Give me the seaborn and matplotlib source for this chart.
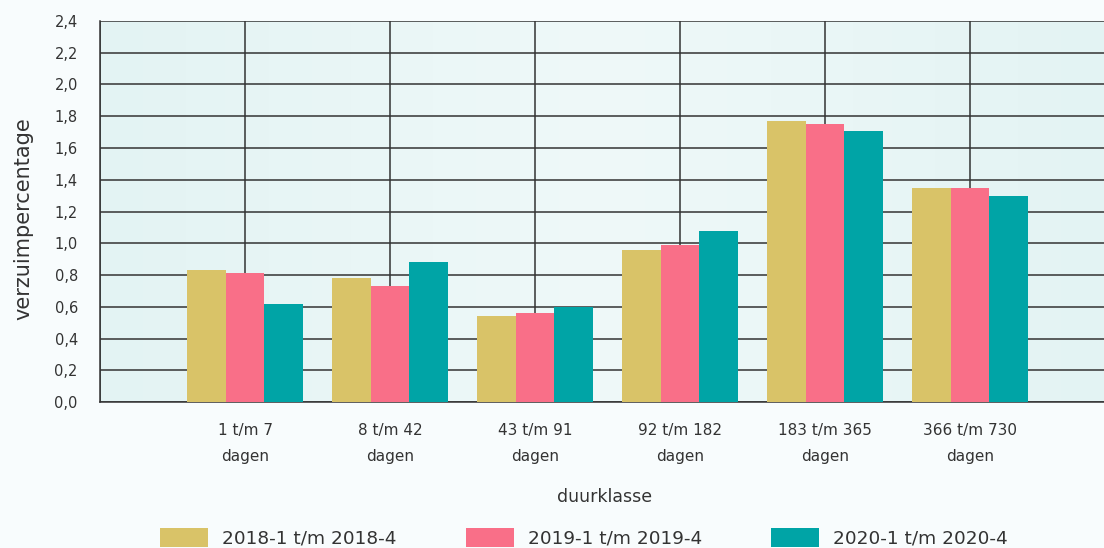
import numpy as np
import pandas as pd
import seaborn as sns
import matplotlib.pyplot as plt
from matplotlib.patches import Patch
from matplotlib.colors import LinearSegmentedColormap
from matplotlib.ticker import FuncFormatter

categories = ["1 t/m 7\ndagen", "8 t/m 42\ndagen", "43 t/m 91\ndagen",
              "92 t/m 182\ndagen", "183 t/m 365\ndagen", "366 t/m 730\ndagen"]
periods = ["2018-1 t/m 2018-4", "2019-1 t/m 2019-4", "2020-1 t/m 2020-4"]
vals_2018 = [0.83, 0.78, 0.54, 0.96, 1.77, 1.35]
vals_2019 = [0.81, 0.73, 0.56, 0.99, 1.75, 1.35]
vals_2020 = [0.62, 0.88, 0.60, 1.08, 1.71, 1.30]
colors = ["#D9C368", "#F96F88", "#00A4A6"]


def build_frame():
    rows = []
    for period, vals in zip(periods, [vals_2018, vals_2019, vals_2020]):
        for cat, v in zip(categories, vals):
            rows.append({"duurklasse": cat, "periode": period, "waarde": v})
    return pd.DataFrame(rows)


def plot(df):
    sns.set_theme(style="white")
    plt.rcParams["font.family"] = ["DejaVu Sans"]
    fig = plt.figure(figsize=(11.04, 5.48), dpi=100, facecolor="#F8FCFD")
    ax = fig.add_axes([0.0906, 0.2664, 0.9094, 0.6953])

    # soft background gradient of the plot area
    bg = LinearSegmentedColormap.from_list("bg", ["#E3F3F3", "#EFF9F9", "#E3F3F3"])
    ax.imshow(np.linspace(0, 1, 256)[None, :], cmap=bg, aspect="auto",
              extent=[0, 1, 0, 1], transform=ax.transAxes, zorder=-1)

    sns.barplot(data=df, x="duurklasse", y="waarde", hue="periode",
                order=categories, hue_order=periods, palette=colors,
                width=0.8, saturation=1, legend=False, ax=ax, zorder=3,
                edgecolor="none", linewidth=0)

    ax.set_ylim(0, 2.4)
    ax.set_yticks([i * 0.2 for i in range(13)])
    ax.yaxis.set_major_formatter(FuncFormatter(lambda v, _: f"{v:.1f}".replace(".", ",")))
    ax.set_xlim(-1, 5.924)
    ax.set_xticks(range(-1, 6))
    ax.set_xticklabels([""] + categories, linespacing=1.9)

    ax.grid(True, color="#333333", linewidth=1.1, zorder=0)
    ax.set_axisbelow(True)
    for s in ["top", "right"]:
        ax.spines[s].set_visible(False)
    for s in ["left", "bottom"]:
        ax.spines[s].set_color("#333333")
        ax.spines[s].set_linewidth(1.1)

    ax.tick_params(axis="y", length=12, width=1, color="#333333",
                   labelsize=10.5, labelcolor="#333333", pad=4)
    ax.tick_params(axis="x", length=5, width=1, color="#333333",
                   labelsize=11, labelcolor="#333333", pad=10)
    ax.set_xlabel("")
    ax.set_ylabel("verzuimpercentage", fontsize=15, color="#333333")
    ax.yaxis.set_label_coords(-0.066, 0.48)

    fig.text(0.548, 0.093, "duurklasse", ha="center", va="center",
             fontsize=12.5, color="#333333")

    handles = [Patch(facecolor=c, edgecolor="none") for c in colors]
    fig.legend(handles, periods, loc="lower center", bbox_to_anchor=(0.529, -0.03),
               ncol=3, frameon=False, fontsize=13.3, handlelength=2.6,
               handleheight=1.15, handletextpad=0.76, columnspacing=3.75,
               labelcolor="#333333")

    fig.savefig("out.png", dpi=100, facecolor=fig.get_facecolor())


def main():
    df = build_frame()
    plot(df)


if __name__ == "__main__":
    main()
